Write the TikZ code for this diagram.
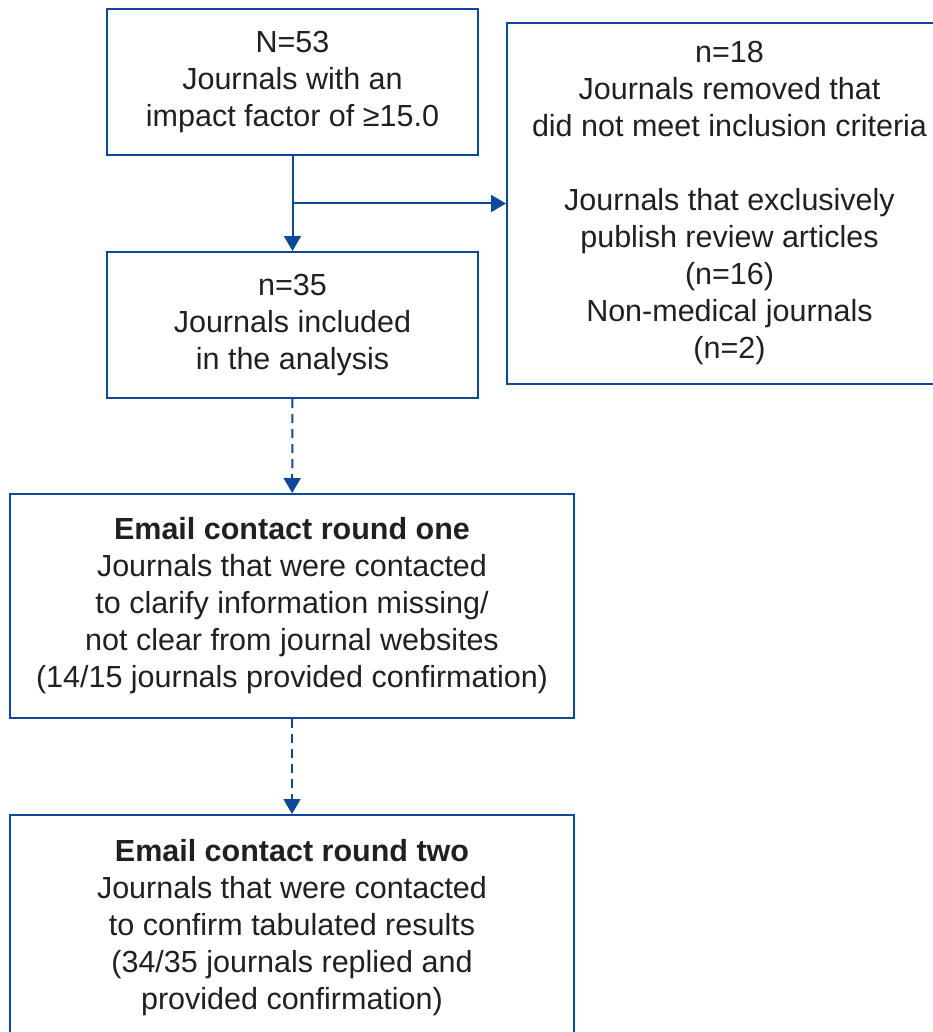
\documentclass[tikz,border=0pt]{standalone}
\usepackage{fontspec}
\setmainfont{Liberation Sans}
\usetikzlibrary{arrows.meta}
\definecolor{flowblue}{RGB}{14,72,152}
\definecolor{flowtext}{RGB}{35,31,32}
\tikzset{box/.style={draw=flowblue, line width=2pt, align=center, text=flowtext, inner sep=0pt},
	arr/.style={draw=flowblue, line width=2pt, -{Triangle[width=17pt,length=15pt]}},
	dashline/.style={arr, dash pattern=on 9pt off 6pt}}

\begin{document}
\begin{tikzpicture}
  [x=1pt,y=-1pt,font=\fontsize{30.5}{37}\selectfont]
  \path[use as bounding box, clip] (0,0) rectangle (933,1032);
  \node[box, minimum width=371pt, minimum height=146pt] (total) at (292.5,82)
    {N=53\\Journals with an\\impact factor of ≥15.0};
  \node[box, minimum width=371pt, minimum height=146pt] (incl) at (292.5,325)
    {n=35\\Journals included\\in the analysis};
  \node[box, minimum width=445pt, minimum height=361pt] (excl) at (729.5,203.5)
    {n=18\\Journals removed that\\did not meet inclusion criteria\\[37pt]
     Journals that exclusively\\publish review articles\\(n=16)\\Non-medical journals\\(n=2)};
  \node[box, minimum width=564pt, minimum height=224pt] (round1) at (292,606)
    {\textbf{Email contact round one}\\Journals that were contacted\\to clarify information missing/\\
     not clear from journal websites\\(14/15 journals provided confirmation)};
  \node[box, minimum width=564pt, minimum height=226pt] (round2) at (292,928)
    {\textbf{Email contact round two}\\Journals that were contacted\\to confirm tabulated results\\
     (34/35 journals replied and\\provided confirmation)};
  \coordinate (split) at (total.south |- excl.west);
  \draw[arr] (total) -- (incl);
  \draw[arr] (split) -- (excl);
  \foreach \from/\to in {incl/round1,round1/round2}
    \draw[dashline] (\from) -- (\to);
\end{tikzpicture}
\end{document}
